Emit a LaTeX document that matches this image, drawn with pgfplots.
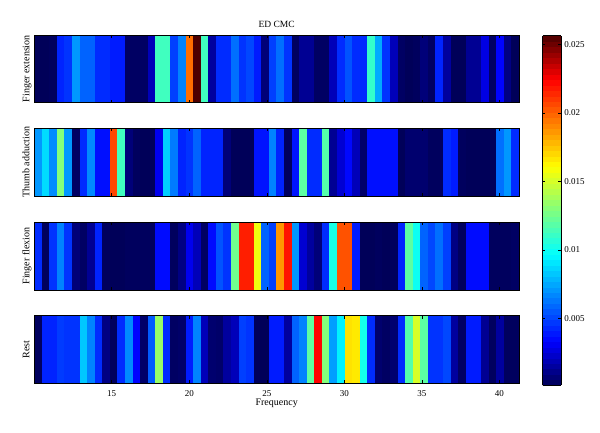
\documentclass[border=0pt]{standalone}
\usepackage{fontspec}
\setmainfont{Liberation Serif}
\usepackage{pgfplots}
\usepackage{pgfplotstable}
\pgfplotsset{compat=1.18}

\newcommand\makestrip[2]{%
  \pgfplotstableread[row sep=\\]{#2}#1%
  \pgfplotstablecreatecol[expr={0}]{r}#1%
  \pgfplotstableread[row sep=\\]{#2}\stripcopy
  \pgfplotstablecreatecol[expr={1}]{r}\stripcopy
  \pgfplotstablevertcat{#1}{\stripcopy}%
}

% Finger extension (k = bin index, f = k*0.48828125 Hz; last row closes the final cell)
\makestrip\dataA{k v\\
21 0.0002\\ 22 0.0002\\ 23 0.0003\\ 24 0.0042\\ 25 0.0046\\ 26 0.0071\\ 27 0.0058\\ 28 0.0058\\
29 0.0044\\ 30 0.0044\\ 31 0.0040\\ 32 0.0040\\ 33 0.0004\\ 34 0.0004\\ 35 0.0004\\ 36 0.0020\\
37 0.0113\\ 38 0.0113\\ 39 0.0049\\ 40 0.0066\\ 41 0.0197\\ 42 0.0256\\ 43 0.0113\\ 44 0.0015\\
45 0.0044\\ 46 0.0044\\ 47 0.0061\\ 48 0.0046\\ 49 0.0051\\ 50 0.0040\\ 51 0.0008\\ 52 0.0049\\
53 0.0061\\ 54 0.0046\\ 55 0.0003\\ 56 0.0013\\ 57 0.0013\\ 58 0.0004\\ 59 0.0004\\ 60 0.0020\\
61 0.0044\\ 62 0.0054\\ 63 0.0044\\ 64 0.0044\\ 65 0.0110\\ 66 0.0076\\ 67 0.0046\\ 68 0.0020\\
69 0.0004\\ 70 0.0002\\ 71 0.0003\\ 72 0.0008\\ 73 0.0004\\ 74 0.0042\\ 75 0.0015\\ 76 0.0002\\
77 0.0002\\ 78 0.0013\\ 79 0.0013\\ 80 0.0028\\ 81 0.0004\\ 82 0.0034\\ 83 0.0010\\ 84 0.0002\\
85 0.0002\\
}
% Thumb adduction
\makestrip\dataB{k v\\
21 0.0071\\ 22 0.0088\\ 23 0.0068\\ 24 0.0130\\ 25 0.0071\\ 26 0.0004\\ 27 0.0044\\ 28 0.0068\\
29 0.0037\\ 30 0.0037\\ 31 0.0207\\ 32 0.0113\\ 33 0.0008\\ 34 0.0003\\ 35 0.0002\\ 36 0.0002\\
37 0.0030\\ 38 0.0085\\ 39 0.0064\\ 40 0.0042\\ 41 0.0046\\ 42 0.0058\\ 43 0.0042\\ 44 0.0042\\
45 0.0042\\ 46 0.0008\\ 47 0.0002\\ 48 0.0002\\ 49 0.0002\\ 50 0.0038\\ 51 0.0038\\ 52 0.0066\\
53 0.0042\\ 54 0.0003\\ 55 0.0038\\ 56 0.0120\\ 57 0.0044\\ 58 0.0044\\ 59 0.0118\\ 60 0.0013\\
61 0.0025\\ 62 0.0035\\ 63 0.0020\\ 64 0.0005\\ 65 0.0037\\ 66 0.0037\\ 67 0.0037\\ 68 0.0037\\
69 0.0002\\ 70 0.0006\\ 71 0.0006\\ 72 0.0006\\ 73 0.0003\\ 74 0.0003\\ 75 0.0044\\ 76 0.0040\\
77 0.0003\\ 78 0.0002\\ 79 0.0002\\ 80 0.0002\\ 81 0.0002\\ 82 0.0061\\ 83 0.0071\\ 84 0.0044\\
85 0.0044\\
}
% Finger flexion
\makestrip\dataC{k v\\
21 0.0044\\ 22 0.0003\\ 23 0.0046\\ 24 0.0066\\ 25 0.0046\\ 26 0.0008\\ 27 0.0004\\ 28 0.0013\\
29 0.0042\\ 30 0.0003\\ 31 0.0002\\ 32 0.0002\\ 33 0.0003\\ 34 0.0003\\ 35 0.0003\\ 36 0.0003\\
37 0.0036\\ 38 0.0036\\ 39 0.0003\\ 40 0.0010\\ 41 0.0030\\ 42 0.0020\\ 43 0.0004\\ 44 0.0036\\
45 0.0054\\ 46 0.0046\\ 47 0.0125\\ 48 0.0217\\ 49 0.0217\\ 50 0.0157\\ 51 0.0058\\ 52 0.0049\\
53 0.0187\\ 54 0.0220\\ 55 0.0071\\ 56 0.0025\\ 57 0.0015\\ 58 0.0008\\ 59 0.0044\\ 60 0.0103\\
61 0.0204\\ 62 0.0204\\ 63 0.0040\\ 64 0.0002\\ 65 0.0002\\ 66 0.0003\\ 67 0.0002\\ 68 0.0003\\
69 0.0042\\ 70 0.0120\\ 71 0.0100\\ 72 0.0058\\ 73 0.0051\\ 74 0.0061\\ 75 0.0049\\ 76 0.0010\\
77 0.0003\\ 78 0.0036\\ 79 0.0036\\ 80 0.0036\\ 81 0.0003\\ 82 0.0003\\ 83 0.0003\\ 84 0.0004\\
85 0.0004\\
}
% Rest
\makestrip\dataD{k v\\
21 0.0003\\ 22 0.0042\\ 23 0.0042\\ 24 0.0048\\ 25 0.0046\\ 26 0.0046\\ 27 0.0083\\ 28 0.0066\\
29 0.0044\\ 30 0.0010\\ 31 0.0003\\ 32 0.0044\\ 33 0.0068\\ 34 0.0034\\ 35 0.0005\\ 36 0.0056\\
37 0.0135\\ 38 0.0044\\ 39 0.0004\\ 40 0.0005\\ 41 0.0040\\ 42 0.0066\\ 43 0.0020\\ 44 0.0006\\
45 0.0005\\ 46 0.0015\\ 47 0.0020\\ 48 0.0049\\ 49 0.0046\\ 50 0.0002\\ 51 0.0002\\ 52 0.0040\\
53 0.0040\\ 54 0.0015\\ 55 0.0058\\ 56 0.0066\\ 57 0.0120\\ 58 0.0224\\ 59 0.0130\\ 60 0.0073\\
61 0.0094\\ 62 0.0168\\ 63 0.0166\\ 64 0.0102\\ 65 0.0044\\ 66 0.0006\\ 67 0.0004\\ 68 0.0006\\
69 0.0044\\ 70 0.0118\\ 71 0.0151\\ 72 0.0120\\ 73 0.0046\\ 74 0.0046\\ 75 0.0051\\ 76 0.0015\\
77 0.0004\\ 78 0.0040\\ 79 0.0040\\ 80 0.0013\\ 81 0.0003\\ 82 0.0015\\ 83 0.0003\\ 84 0.0003\\
85 0.0003\\
}

\pgfplotsset{
  /pgf/number format/assume math mode=true,
  colormap={jetdark}{rgb255(0cm)=(0,0,85) rgb255(1cm)=(0,0,255) rgb255(3cm)=(0,255,255) rgb255(5cm)=(255,255,0) rgb255(7cm)=(255,0,0) rgb255(8cm)=(75,0,0)},
  stripaxis/.style={
    anchor=south west,
    scale only axis, width=484.7pt, height=67.8pt,
    xmin=10.009765625, xmax=41.259765625, ymin=0, ymax=1,
    enlargelimits=false,
    colormap name=jetdark, point meta min=0.00013, point meta max=0.02563,
    ytick=\empty, xtick={15,20,25,30,35,40},
    tick align=inside, xtick pos=both, major tick length=3pt,
    axis on top,
    axis line style={black, line width=0.6pt},
    tick style={black, line width=0.5pt},
    every axis y label/.style={at={([xshift=-5pt]axis description cs:0,0.5)}, rotate=90, anchor=base, font=\fontsize{10}{12}\selectfont},
    every axis title/.style={at={(axis description cs:0.5,1)}, anchor=base, yshift=7.8pt, font=\fontsize{9.5}{11}\selectfont},
    tick label style={font=\fontsize{9}{11}\selectfont},
  },
  stripplot/.style={surf, shader=flat corner, mesh/cols=65, point meta=explicit},
}

\begin{document}
\begin{tikzpicture}
\path[use as bounding box] (0,0) rectangle (600pt,432pt);

\begin{axis}[stripaxis, at={(34.3pt,329.3pt)}, xticklabels=\empty,
  ylabel={Finger extension},
  title={ED CMC}]
\addplot[stripplot] table[x expr=(\thisrow{k}-0.5)*0.48828125, y=r, meta=v] {\dataA};
\end{axis}

\begin{axis}[stripaxis, at={(34.3pt,235.8pt)}, xticklabels=\empty,
  ylabel={Thumb adduction}]
\addplot[stripplot] table[x expr=(\thisrow{k}-0.5)*0.48828125, y=r, meta=v] {\dataB};
\end{axis}

\begin{axis}[stripaxis, at={(34.3pt,142.2pt)}, xticklabels=\empty,
  ylabel={Finger flexion}]
\addplot[stripplot] table[x expr=(\thisrow{k}-0.5)*0.48828125, y=r, meta=v] {\dataC};
\end{axis}

\begin{axis}[stripaxis, at={(34.3pt,48.7pt)},
  ylabel={Rest},
  xlabel={Frequency},
  every axis x label/.style={at={(axis description cs:0.5,0)}, anchor=base, yshift=-22.2pt, font=\fontsize{10}{12}\selectfont},
  xticklabel style={anchor=base, yshift=-12.7pt},
  colorbar sampled,
  colorbar style={
    at={(parent axis.south east)}, anchor=south west, xshift=15pt, yshift=-1.7pt,
    scale only axis, width=18.3pt, height=349.3pt,
    samples=65,
    ytick={0.005,0.01,0.015,0.02,0.025},
    scaled y ticks=false,
    yticklabel style={/pgf/number format/fixed, /pgf/number format/precision=3, /pgf/number format/assume math mode=true, font=\fontsize{9}{11}\selectfont},
    tick align=inside, ytick pos=both, yticklabel pos=right, major tick length=2.5pt,
    axis line style={black, line width=0.6pt},
    tick style={black, line width=0.5pt},
  }]
\addplot[stripplot] table[x expr=(\thisrow{k}-0.5)*0.48828125, y=r, meta=v] {\dataD};
\end{axis}
\end{tikzpicture}
\end{document}
